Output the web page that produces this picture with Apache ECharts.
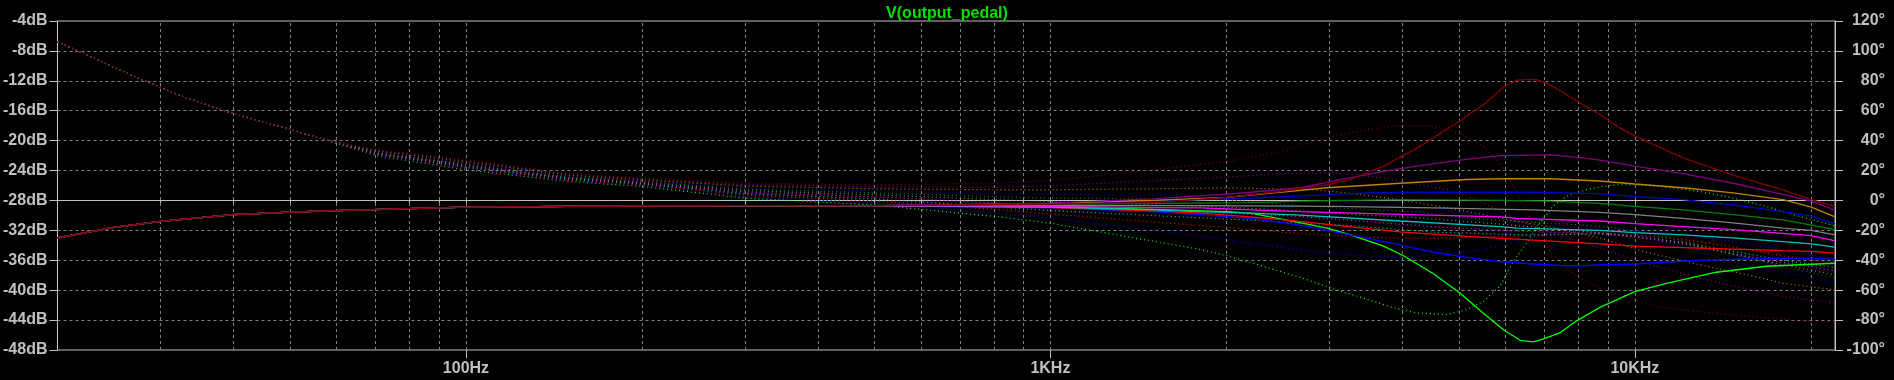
<!DOCTYPE html>
<html><head><meta charset="utf-8">
<script src="https://cdn.jsdelivr.net/npm/echarts@6/dist/echarts.min.js"></script>
<style>html,body{margin:0;padding:0;background:#000;}#c{width:1894px;height:380px;}</style>
</head><body><div id="c"></div>
<script>
const chartTitle = 'V(output_pedal)';
const gridFreqs = [30,40,50,60,70,80,90,100,200,300,400,500,600,700,800,900,1000,2000,3000,4000,5000,6000,7000,8000,9000,10000,20000];
const labelFreqs = [100,1000,10000];
const xTickLabels = ['100Hz','1KHz','10KHz'];
const traceColors = ['#00ff00','#0000ff','#ff0000','#00c0c0','#ff00ff','#808080','#008000','#0000c0','#c08000','#800080','#800000'];

// shared low-frequency part (all steps coincide)
const lowMag = [[20,-33.0],[25,-31.6],[30,-30.8],[40,-29.9],[50,-29.56],[60,-29.35],[80,-29.1],[100,-28.9],[150,-28.78],[200,-28.72],[300,-28.7],[500,-28.7]];
const lowPhase = [[20,106],[22,99],[25,89],[28,80.5],[32,71],[36,64],[40,58],[45,52.5],[50,47.5],[57,41]];

// magnitude (dB) per step
const magGreen = [[1000,-28.85],[1500,-29.2],[2000,-29.5],[2200,-29.7],[2476,-30.45],[2975,-31.7],[3261,-32.6],[3717,-34.1],[4021,-35.4],[4523,-37.8],[5024,-40.4],[5506,-43.1],[5957,-45.3],[6364,-46.7],[6704,-46.9],[6972,-46.5],[7444,-45.7],[7953,-44.1],[8712,-42.3],[10000,-40.2],[11327,-39.1],[13789,-37.6],[16788,-36.8],[22000,-36.4]];
const magBlue = [[1000,-29.0],[1500,-29.5],[1807,-29.9],[2200,-30.4],[2678,-31.3],[2975,-32.0],[3717,-33.5],[4523,-34.9],[5158,-35.6],[5881,-36.2],[6698,-36.5],[7444,-36.7],[8158,-36.75],[8712,-36.6],[10000,-36.5],[12912,-36.0],[17923,-35.7],[22000,-35.85]];
const magRed = [[1000,-28.95],[1500,-29.4],[1807,-29.7],[2200,-30.2],[2678,-30.8],[3054,-31.3],[3968,-32.2],[5158,-32.8],[6698,-33.3],[8712,-33.8],[10000,-34.1],[12092,-34.3],[14723,-34.5],[17923,-34.7],[20040,-34.8],[22000,-35.05]];
const magCyan = [[1000,-28.9],[1500,-29.25],[1807,-29.5],[2200,-29.7],[2678,-29.95],[3968,-30.75],[5881,-31.5],[6281,-31.7],[8712,-32.0],[10000,-32.3],[12092,-32.6],[14723,-33.0],[17923,-33.5],[20040,-33.8],[22000,-34.25]];
const magMagenta = [[1000,-28.8],[1500,-28.95],[1807,-29.0],[2200,-29.25],[2678,-29.5],[3968,-29.85],[5881,-30.2],[6281,-30.4],[8712,-30.75],[10000,-31.1],[12092,-31.5],[14723,-31.9],[17923,-32.4],[20040,-32.7],[22000,-33.4]];
const magGray = [[1000,-28.7],[1807,-28.7],[3054,-28.8],[4523,-29.0],[6698,-29.25],[8712,-29.6],[10000,-29.9],[12092,-30.4],[14723,-31.0],[17923,-31.7],[20040,-32.0],[22000,-32.6]];
const magDkGreen = [[1000,-28.55],[1500,-28.4],[1807,-28.35],[2200,-28.3],[2678,-28.1],[3968,-27.9],[5881,-28.0],[7157,-28.1],[8712,-28.4],[10000,-28.8],[12092,-29.25],[14723,-29.9],[17923,-30.6],[20040,-31.3],[22000,-31.9]];
const magDkBlue = [[1000,-28.45],[1500,-28.1],[2000,-27.8],[2200,-27.7],[3054,-27.2],[3483,-27.0],[4238,-26.9],[6698,-26.9],[8712,-27.1],[10000,-27.5],[12092,-27.9],[14723,-28.6],[17923,-29.5],[20040,-30.1],[22000,-31.1]];
const magOrange = [[1000,-28.4],[1500,-28.0],[2000,-27.6],[2200,-27.3],[2975,-26.3],[3968,-25.7],[5158,-25.2],[6000,-25.1],[7157,-25.1],[8712,-25.4],[10000,-25.8],[12092,-26.3],[14723,-27.0],[17923,-27.9],[20040,-28.9],[22000,-30.2]];
const magPurple = [[1000,-28.35],[1500,-27.8],[2000,-27.15],[2200,-26.9],[2678,-26.3],[3135,-25.2],[3717,-24.1],[4238,-23.4],[5024,-22.6],[5881,-22.0],[7157,-21.9],[8158,-22.3],[8712,-22.6],[10000,-23.4],[12092,-24.4],[14723,-25.7],[17923,-27.2],[20040,-28.1],[22000,-29.3]];
const magDkRed = [[1000,-28.5],[1500,-28.3],[2000,-27.6],[2476,-26.8],[2975,-25.9],[3261,-25.2],[3717,-23.4],[4238,-21.0],[4962,-17.6],[5506,-15.2],[5957,-12.9],[6281,-11.9],[6600,-11.8],[6790,-11.85],[7157,-12.5],[7953,-14.7],[8712,-16.5],[9428,-18.3],[10000,-19.4],[12092,-22.3],[14723,-24.6],[17923,-26.6],[20040,-27.9],[22000,-28.8]];

// phase (degrees) per step
const phGreen = [[70,30],[100,20.5],[150,12.7],[200,9.4],[300,1.6],[500,-3],[823,-11.1],[1000,-15.2],[1807,-32.8],[2008,-37.1],[2200,-41.5],[2678,-51.5],[3135,-60.7],[3573,-67.4],[3866,-71.8],[4238,-75.2],[4775,-76.3],[5158,-73],[5506,-67.4],[5881,-57.3],[6198,-40.6],[6531,-28.4],[6882,-15],[7252,-3.8],[7645,2.9],[8271,7.3],[8712,9.1],[9318,10.5],[10000,10.5],[11032,9.4],[12912,6.0],[14723,1.6],[16788,-4.0],[19138,-10.7],[22000,-17]];
const phBlue = [[70,30.4],[100,21.2],[150,13.2],[200,10],[300,2.6],[500,-1.65],[823,-9.1],[1000,-11.8],[1807,-23.9],[2008,-26.4],[2200,-28.8],[2678,-33.2],[3261,-36.8],[3968,-37.7],[4775,-36.2],[5506,-32.8],[6117,-28.4],[7157,-21.8],[8158,-19.5],[10000,-20],[12092,-23],[14723,-27.5],[17923,-33],[22000,-39]];
const phRed = [[70,30.8],[100,21.8],[150,13.7],[200,10.5],[300,3.6],[500,-0.3],[823,-6.3],[1000,-9.1],[2008,-18.1],[2200,-19.4],[2678,-22.1],[3717,-25],[4523,-25.4],[6281,-23.8],[8712,-21.6],[10000,-23],[12092,-26],[14723,-31],[17923,-37],[22000,-42]];
const phCyan = [[70,31.2],[100,22.5],[150,14.3],[200,11.1],[300,4.6],[500,1.05],[823,-4.5],[1000,-6.7],[2008,-12.5],[2200,-13.1],[2678,-15.2],[3261,-16.7],[4523,-21.2],[6531,-23],[8712,-22.5],[10000,-24],[12092,-28],[14723,-34],[17923,-40],[22000,-45]];
const phMagenta = [[70,31.6],[100,23.2],[150,14.8],[200,11.6],[300,5.6],[500,2.4],[823,-1.8],[1000,-3.6],[2008,-8.5],[2678,-10.7],[4523,-17.6],[6281,-20.5],[8712,-22],[10000,-24.5],[12092,-29],[14723,-35.5],[17923,-41.5],[22000,-47]];
const phGray = [[70,32],[100,23.9],[150,15.3],[200,12.2],[300,6.6],[500,3.75],[823,0.4],[1000,-0.7],[2008,-4.5],[2678,-7],[3261,-9.3],[4238,-11.5],[5506,-14.9],[8712,-21.6],[10000,-23.5],[12092,-28.5],[14723,-36],[17923,-43],[22000,-49.8]];
const phDkGreen = [[70,32.4],[100,24.5],[150,15.8],[200,12.8],[300,7.6],[500,5.1],[823,2.3],[1000,1.6],[2008,0.4],[2678,-3.6],[3261,-5.5],[4238,-7.7],[5506,-12.7],[8712,-17.1],[10000,-20.5],[12092,-27],[14723,-36],[17923,-44],[22000,-51.8]];
const phDkBlue = [[70,32.8],[100,25.2],[150,16.3],[200,13.3],[300,8.6],[500,6.45],[823,4.3],[1000,4.3],[2008,3.1],[2678,1.5],[3261,-1.5],[3968,-4.2],[4775,-7.1],[5881,-10.5],[6698,-12.8],[7953,-18.3],[10000,-23],[12092,-31],[14723,-41],[17923,-48],[22000,-55.2]];
const phOrange = [[70,33.2],[100,25.9],[150,16.9],[200,13.9],[300,9.6],[500,7.8],[823,7.1],[1000,7.1],[2008,8.3],[2678,7.6],[3054,6],[3717,2],[4238,-1.5],[4800,-5],[5506,-9.5],[6281,-14],[7157,-17.7],[8712,-25],[10320,-34],[12912,-43],[15720,-50],[17923,-55.4],[22000,-59.8]];
const phPurple = [[70,33.6],[100,26.5],[150,17.4],[200,14.4],[300,10.6],[500,9.15],[823,8.9],[1000,9.8],[2008,15.6],[2476,18],[3054,18.5],[3261,17.4],[3717,15.1],[4080,11.8],[4775,7.3],[5167,2.9],[5655,-3.8],[6117,-10.5],[6698,-17.2],[7645,-25],[8712,-31.7],[10320,-41.5],[12912,-52],[15720,-59.6],[17923,-64.3],[22000,-68.6]];
const phDkRed = [[70,34],[100,27.2],[150,17.9],[200,15],[300,11.6],[500,10.5],[823,11.6],[1000,13.4],[1807,24],[2008,26.1],[2508,33],[2678,36.6],[3054,43],[3483,47.4],[3866,49.7],[4523,49.7],[5024,45.2],[5506,36.3],[5881,25.2],[6198,9.5],[6531,-8.3],[6972,-23.9],[7157,-34],[7444,-41],[7953,-50.7],[8712,-58.5],[10000,-66.5],[11032,-71.4],[12912,-74.4],[15720,-77.7],[18500,-79.9],[22000,-81.5]];

const magSets = [magGreen,magBlue,magRed,magCyan,magMagenta,magGray,magDkGreen,magDkBlue,magOrange,magPurple,magDkRed];
const phSets = [phGreen,phBlue,phRed,phCyan,phMagenta,phGray,phDkGreen,phDkBlue,phOrange,phPurple,phDkRed];

const axisColor = '#c0c0c0';
const gridColor = '#808080';
const font = 'Liberation Sans, Arial, sans-serif';

const series = [];
// vertical grid lines (decade sub-divisions) drawn from gridFreqs on the log axis
series.push({type:'line', xAxisIndex:0, yAxisIndex:0, data:[], silent:true, z:1,
  markLine:{silent:true, symbol:'none', z:1, animation:false, label:{show:false},
    lineStyle:{color:gridColor, width:1, type:[3,3]},
    emphasis:{disabled:true},
    data: gridFreqs.map(f => ({xAxis:f}))}});
phSets.forEach((d, i) => {
  series.push({type:'line', xAxisIndex:0, yAxisIndex:1, data: lowPhase.concat(d), showSymbol:false, z:2,
    lineStyle:{color:traceColors[i], width:1.2, type:[1,3]}, silent:true});
});
magSets.forEach((d, i) => {
  series.push({type:'line', xAxisIndex:0, yAxisIndex:0, data: lowMag.concat(d), showSymbol:false, z:3,
    lineStyle:{color:traceColors[i], width:1.3}, silent:true});
});

const chart = echarts.init(document.getElementById('c'), null, {renderer:'canvas'});
chart.setOption({
  backgroundColor:'#000000',
  animation:false,
  title:{text:chartTitle, left:'center', top:1, textStyle:{color:'#00e000', fontSize:16, fontWeight:'bold', fontFamily:font}},
  grid:{left:55, right:59, top:21, bottom:30, show:true, borderColor:axisColor, borderWidth:1, backgroundColor:'transparent'},
  xAxis:[{
    type:'log', logBase:10, min:20, max:22000, position:'bottom',
    axisLine:{show:true, lineStyle:{color:axisColor}},
    axisTick:{show:true, customValues:gridFreqs, length:3, lineStyle:{color:axisColor}},
    axisLabel:{show:false},
    splitLine:{show:false}
  },{
    type:'log', logBase:10, min:20, max:22000, position:'bottom',
    axisLine:{show:false},
    axisTick:{show:true, customValues:labelFreqs, length:8, lineStyle:{color:axisColor}},
    axisLabel:{show:true, customValues:labelFreqs, margin:11, color:axisColor, fontSize:16, fontWeight:'bold', fontFamily:font,
      formatter:v => xTickLabels[Math.round(Math.log10(v)) - 2]},
    splitLine:{show:false}
  }],
  yAxis:[{
    type:'value', min:-48, max:-4, interval:4, position:'left',
    axisLine:{show:true, lineStyle:{color:axisColor}},
    axisTick:{show:true, length:8, lineStyle:{color:axisColor}},
    axisLabel:{formatter:v => v + 'dB', color:axisColor, fontSize:16, fontWeight:'bold', fontFamily:font, margin:10},
    splitLine:{show:true, showMinLine:false, showMaxLine:false, lineStyle:{color:gridColor, type:[3,3]}}
  },{
    type:'value', min:-100, max:120, interval:20, position:'right',
    axisLine:{show:true, lineStyle:{color:axisColor}},
    axisTick:{show:true, length:8, lineStyle:{color:axisColor}},
    axisLabel:{formatter:v => v + '°', color:axisColor, fontSize:16, fontWeight:'bold', fontFamily:font, align:'right', margin:50},
    splitLine:{show:false}
  }],
  series:series
});
</script></body></html>
